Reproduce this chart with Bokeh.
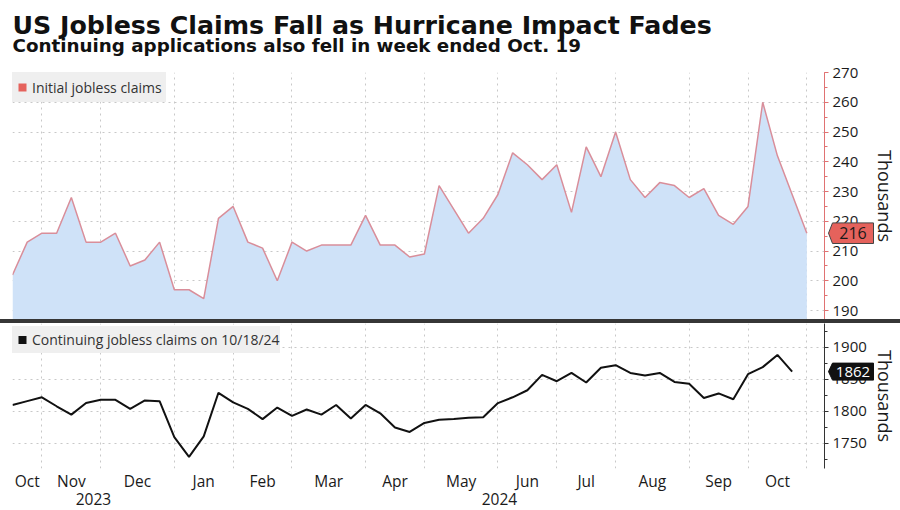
import pandas as pd
from bokeh.plotting import figure
from bokeh.models import (Range1d, LinearAxis, FixedTicker, SingleIntervalTicker, Grid,
                          Legend, LegendItem, Div, GridBox)
from bokeh.core.properties import value
from bokeh.embed import file_html
from bokeh.resources import INLINE

# ---------------- data ----------------
title_text = "US Jobless Claims Fall as Hurricane Impact Fades"
subtitle_text = "Continuing applications also fell in week ended Oct. 19"
initial_label = "Initial jobless claims"
continuing_label = "Continuing jobless claims on 10/18/24"
unit_label = "Thousands"

first_week = "2023-10-13"   # weekly observations (Friday dating)
initial_claims = [202, 213, 216, 216, 228, 213, 213, 216, 205, 207,
                  213, 197, 197, 194, 221, 225, 213, 211, 200, 213,
                  210, 212, 212, 212, 222, 212, 212, 208, 209, 232,
                  224, 216, 221, 229, 243, 239, 234, 239, 223, 245,
                  235, 250, 234, 228, 233, 232, 228, 231, 222, 219,
                  225, 260, 242, 229, 216]
continuing_claims = [1810, 1816, 1822, 1808, 1795, 1813, 1818, 1818, 1804, 1817,
                     1816, 1760, 1729, 1761, 1829, 1814, 1804, 1788, 1806, 1793,
                     1803, 1795, 1810, 1789, 1810, 1797, 1775, 1768, 1782, 1787,
                     1788, 1790, 1791, 1813, 1822, 1833, 1857, 1847, 1860, 1845,
                     1868, 1872, 1860, 1856, 1860, 1846, 1843, 1821, 1828, 1819,
                     1858, 1869, 1888, 1862]
month_labels = ["Oct", "Nov", "Dec", "Jan", "Feb", "Mar", "Apr", "May",
                "Jun", "Jul", "Aug", "Sep", "Oct"]
year_labels = ["2023", "2024"]

# ---------------- derived positions ----------------
weeks = pd.date_range(first_week, periods=len(initial_claims), freq="7D")
n = len(weeks)
x_init = list(range(len(initial_claims)))
x_cont = list(range(len(continuing_claims)))
month_ends = [i for i in range(n) if i == n - 1 or weeks[i].month != weeks[i + 1].month]
edges = [0] + month_ends
month_centers = [(edges[k] + edges[k + 1]) / 2 for k in range(len(month_ends))]
year_end = [i for i in range(n - 1) if weeks[i].year != weeks[i + 1].year][0]

# ---------------- style ----------------
FONT = "Open Sans"
TFONT = "DejaVu Sans"
W = 900
LEFT, RIGHT = 12, 72
X_START, X_END = 0, 55.2
TOP_H, TOP_ABOVE = 319, 72
BOT_H, BOT_BELOW = 187, 42
Y1 = (187, 270)
Y2 = (1711, 1937)
RED = "#e5625c"
AXIS_RED = "#e07272"
LINE_PINK = "#d98e9a"
FILL_BLUE = "#cfe2f8"
GRID = "#c8c8c8"
TXT = "#1a1a1a"

year_centers = [(X_START + year_end) / 2, (year_end + X_END) / 2]
xr = Range1d(X_START, X_END)
ky1 = (Y1[1] - Y1[0]) / (TOP_H - TOP_ABOVE)
ky2 = (Y2[1] - Y2[0]) / (BOT_H - BOT_BELOW)


def style_y_axis(p, ticker, color, label_standoff):
    ax = p.yaxis[0]
    ax.ticker = ticker
    ax.axis_line_color = color
    ax.major_tick_line_color = color
    ax.minor_tick_line_color = color
    ax.major_tick_in = 0
    ax.major_tick_out = 4
    ax.minor_tick_in = 0
    ax.minor_tick_out = 3
    ax.major_label_standoff = 4
    ax.major_label_text_font = FONT
    ax.major_label_text_font_size = "15px"
    ax.major_label_text_color = TXT
    ax.axis_label = unit_label
    ax.axis_label_text_font = FONT
    ax.axis_label_text_font_size = "18px"
    ax.axis_label_text_font_style = "normal"
    ax.axis_label_text_color = TXT
    ax.axis_label_standoff = label_standoff
    for g in p.grid:
        g.visible = False
    p.add_layout(Grid(dimension=1, ticker=ticker, grid_line_color=GRID,
                      grid_line_dash="dotted", grid_line_width=1))
    p.add_layout(Grid(dimension=0, ticker=FixedTicker(ticks=month_ends), grid_line_color=GRID,
                      grid_line_dash="dotted", grid_line_width=1))


def key_legend(p, label, xs, ys, loc, color, item_h):
    key = p.scatter(x=xs[-1:], y=ys[-1:], marker="square", size=0,
                    fill_color=color, line_color=None)
    p.add_layout(Legend(items=[LegendItem(label=label, renderers=[key])],
                        location=loc, margin=0, padding=0, spacing=0,
                        label_height=item_h, glyph_width=20, glyph_height=item_h,
                        label_standoff=0, label_width=134,
                        background_fill_color="#efefef", background_fill_alpha=1,
                        border_line_color=None, label_text_font=FONT,
                        label_text_font_size="14px", label_text_color="#333333"))


def overlay(height, yr):
    ov = figure(width=W, height=height, x_range=Range1d(0, W), y_range=Range1d(*yr),
                title=None, output_backend="svg", toolbar_location=None,
                x_axis_location=None, y_axis_location=None, min_border=0,
                frame_align=False,
                outline_line_color=None, background_fill_alpha=0, border_fill_alpha=0)
    for g in ov.grid:
        g.visible = False
    return ov


def add_tag(ov, yr, height, v, half_px, fill, line, txt_color, size):
    ky = (yr[1] - yr[0]) / height
    tip, box_l, box_r = W - RIGHT, W - RIGHT + 4, W - RIGHT + 45
    ov.patch(x=[tip, box_l, box_r, box_r, box_l],
             y=[v, v + half_px * ky, v + half_px * ky, v - half_px * ky, v - half_px * ky],
             fill_color=fill, line_color=line, line_width=1)
    ov.text(x=[(box_l + box_r) / 2], y=[v], text=[f"{v}"], text_align="center",
            text_baseline="middle", text_font=value(FONT), text_font_size=size,
            text_color=txt_color)


# ---------------- top panel ----------------
p1 = figure(width=W, height=TOP_H, x_range=xr, y_range=Range1d(*Y1), title=None,
            output_backend="svg", toolbar_location=None,
            x_axis_location=None, y_axis_location="right",
            min_border_left=LEFT, min_border_right=RIGHT,
            min_border_top=TOP_ABOVE, min_border_bottom=0,
            outline_line_color=None, background_fill_color="white", border_fill_color="white")
p1.varea(x=x_init, y1=Y1[0], y2=initial_claims, fill_color=FILL_BLUE)
p1.line(x=x_init, y=initial_claims, line_color=LINE_PINK, line_width=1.5)
style_y_axis(p1, SingleIntervalTicker(interval=10, num_minor_ticks=2), AXIS_RED, 12)
key_legend(p1, initial_label, x_init, initial_claims, "top_left", RED, 30)

# overlay on the top panel: headline texts and the last-value tag
yr_ov1 = (Y1[0], Y1[1] + TOP_ABOVE * ky1)
ov1 = overlay(TOP_H, yr_ov1)
ov1.text(x=[LEFT], y=[yr_ov1[1] - 25 * ky1], text=[title_text], text_align="left",
         text_baseline="middle", text_font=value(TFONT), text_font_style=value("bold"),
         text_font_size="25.3px", text_color="#111111")
ov1.text(x=[LEFT], y=[yr_ov1[1] - 45 * ky1], text=[subtitle_text], text_align="left",
         text_baseline="middle", text_font=value(TFONT), text_font_style=value("bold"),
         text_font_size="18.3px", text_color="#111111")
add_tag(ov1, yr_ov1, TOP_H, initial_claims[-1], 10.3, RED, "#444444", "#1a1a1a", "16px")

# ---------------- separator ----------------
sep = Div(text="", width=W, height=4, margin=(0, 0, 0, 0),
          styles={"background-color": "#363636"})

# ---------------- bottom panel ----------------
p2 = figure(width=W, height=BOT_H, x_range=xr, y_range=Range1d(*Y2), title=None,
            output_backend="svg", toolbar_location=None,
            x_axis_location=None, y_axis_location="right",
            min_border_left=LEFT, min_border_right=RIGHT,
            min_border_top=0, min_border_bottom=BOT_BELOW,
            outline_line_color=None, background_fill_color="white", border_fill_color="white")
p2.line(x=x_cont, y=continuing_claims, line_color="#111111", line_width=2)
style_y_axis(p2, SingleIntervalTicker(interval=50, num_minor_ticks=2), "#333333", 3)

for ticks, labels, so in ((month_centers, month_labels, 1), (year_centers, year_labels, -2)):
    ax = LinearAxis(ticker=FixedTicker(ticks=ticks),
                    major_label_overrides={t: lab for t, lab in zip(ticks, labels)},
                    axis_line_color=None, major_tick_line_color=None,
                    minor_tick_line_color=None, major_tick_in=0, major_tick_out=0,
                    minor_tick_in=0, minor_tick_out=0, major_label_standoff=so,
                    major_label_text_font=FONT, major_label_text_font_size="15.5px",
                    major_label_text_color=TXT)
    p2.add_layout(ax, "below")

key_legend(p2, continuing_label, x_cont, continuing_claims, (0, 115), "#111111", 27)

yr_ov2 = (Y2[0] - BOT_BELOW * ky2, Y2[1])
ov2 = overlay(BOT_H, yr_ov2)
add_tag(ov2, yr_ov2, BOT_H, continuing_claims[-1], 8.5, "#111111", "#111111", "white", "15px")

layout = GridBox(children=[(p1, 0, 0), (ov1, 0, 0), (sep, 1, 0), (p2, 2, 0), (ov2, 2, 0)],
                 spacing=0)
open("out.html", "w").write(file_html(layout, INLINE))
